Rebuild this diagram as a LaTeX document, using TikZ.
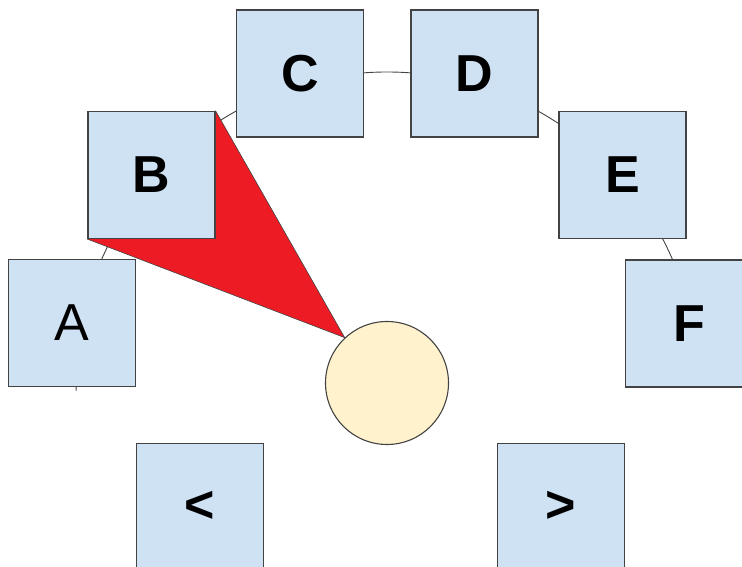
\documentclass[tikz,border=0pt]{standalone}
\usepackage{fontspec}
\setmainfont{Liberation Sans}
\usetikzlibrary{backgrounds}
\definecolor{tilefill}{HTML}{CFE2F3}
\definecolor{hubfill}{HTML}{FFF2CC}
\definecolor{wedge}{HTML}{ED1C24}
\definecolor{edge}{HTML}{434343}
\begin{document}
\begin{tikzpicture}[x=1pt,y=1pt,
  tile/.style={draw=edge,line width=1.2pt,fill=tilefill,minimum size=127pt,inner sep=0pt,font=\fontsize{52}{52}\selectfont\bfseries},
  hub/.style={circle,draw=edge,line width=1.1pt,fill=hubfill,minimum size=123pt,inner sep=0pt}]
\useasboundingbox (0,0) rectangle (742,567);

\node[tile,font=\fontsize{52}{52}\selectfont] (A) at (72,244) {A};
\node[tile] (B) at (151.5,392) {B};
\node[tile] (C) at (300,493.5) {C};
\node[tile] (D) at (474.5,493.5) {D};
\node[tile] (E) at (622.5,392) {E};
\node[tile] (F) at (689,243.5) {F};
\node[tile] (prev) at (200,60) {<};
\node[tile] (next) at (561,60) {>};

\node[hub] (hub) at (387,184) {};

\begin{scope}[on background layer]
% ring behind the tiles
\draw[edge,line width=0.9pt] (hub.center) ++(0:311) arc[start angle=0,end angle=181.4,radius=311];
% pointer from the hub to tile B
\fill[wedge,draw=edge,line width=0.6pt] (B.north east) -- (B.south west) -- (hub.133) -- cycle;
\end{scope}
\end{tikzpicture}
\end{document}
